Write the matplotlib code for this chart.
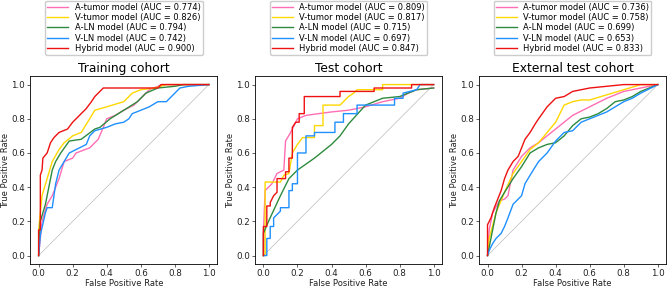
import numpy as np
import matplotlib.pyplot as plt

# 곡선 데이터
labels = ['A-tumor model', 'V-tumor model', 'A-LN model', 'V-LN model', 'Hybrid model']
colors = ['#ff6eb4', '#ffd700', '#2e8b3e', '#1e90ff', '#ee1111']
titles = ['Training cohort', 'Test cohort', 'External test cohort']
aucs = [[0.774, 0.826, 0.794, 0.742, 0.900],
        [0.809, 0.817, 0.715, 0.697, 0.847],
        [0.736, 0.758, 0.699, 0.653, 0.833]]

# Training cohort
tr_atumor_x = [0, 0.02, 0.05, 0.08, 0.12, 0.15, 0.2, 0.22, 0.3, 0.35, 0.38, 0.4, 0.45, 0.5, 0.56, 0.6, 0.65, 0.7, 0.72, 1.0]
tr_atumor_y = [0, 0.2, 0.3, 0.35, 0.45, 0.55, 0.57, 0.6, 0.63, 0.68, 0.75, 0.8, 0.82, 0.85, 0.88, 0.92, 0.97, 0.99, 1.0, 1.0]
tr_vtumor_x = [0, 0, 0.02, 0.05, 0.08, 0.12, 0.15, 0.2, 0.25, 0.3, 0.33, 0.4, 0.5, 0.55, 0.6, 0.68, 0.75, 1.0]
tr_vtumor_y = [0, 0.15, 0.35, 0.45, 0.55, 0.62, 0.66, 0.7, 0.72, 0.8, 0.85, 0.87, 0.9, 0.95, 0.97, 0.98, 1.0, 1.0]
tr_aln_x = [0, 0.01, 0.04, 0.08, 0.1, 0.13, 0.18, 0.25, 0.33, 0.36, 0.42, 0.5, 0.58, 0.63, 0.7, 0.8, 0.85, 1.0]
tr_aln_y = [0, 0.2, 0.3, 0.5, 0.55, 0.6, 0.67, 0.68, 0.74, 0.75, 0.8, 0.85, 0.9, 0.95, 0.98, 0.99, 1.0, 1.0]
tr_vln_x = [0, 0.01, 0.04, 0.05, 0.08, 0.09, 0.1, 0.12, 0.15, 0.18, 0.22, 0.28, 0.3, 0.33, 0.4, 0.45, 0.5, 0.53, 0.55,
            0.6, 0.65, 0.7, 0.75, 0.8, 0.83, 0.88, 1.0]
tr_vln_y = [0, 0.12, 0.25, 0.28, 0.28, 0.35, 0.42, 0.5, 0.55, 0.6, 0.62, 0.65, 0.7, 0.73, 0.75, 0.77, 0.78, 0.8, 0.83,
            0.85, 0.87, 0.9, 0.9, 0.95, 0.98, 0.99, 1.0]
tr_hyb_x = [0, 0, 0.01, 0.01, 0.02, 0.025, 0.05, 0.07, 0.09, 0.12, 0.17, 0.2, 0.22, 0.25, 0.28, 0.31, 0.33, 0.36, 0.38,
            0.7, 0.72, 1.0]
tr_hyb_y = [0, 0.15, 0.15, 0.47, 0.5, 0.57, 0.6, 0.66, 0.69, 0.72, 0.74, 0.78, 0.8, 0.83, 0.86, 0.9, 0.93, 0.96, 0.98,
            0.98, 1.0, 1.0]

# Test cohort
te_atumor_x = [0, 0, 0.01, 0.05, 0.08, 0.12, 0.13, 0.16, 0.2, 0.25, 0.4, 0.5, 0.6, 0.7, 0.8, 0.85, 0.9, 1.0]
te_atumor_y = [0, 0.13, 0.38, 0.42, 0.48, 0.5, 0.67, 0.72, 0.8, 0.82, 0.84, 0.85, 0.87, 0.9, 0.92, 0.95, 0.97, 0.98]
te_vtumor_x = [0, 0.01, 0.01, 0.1, 0.12, 0.15, 0.17, 0.2, 0.23, 0.3, 0.3, 0.35, 0.35, 0.45, 0.5, 0.53, 0.55, 0.7, 0.7, 1.0]
te_vtumor_y = [0, 0.0, 0.43, 0.43, 0.47, 0.48, 0.6, 0.65, 0.69, 0.69, 0.76, 0.76, 0.88, 0.88, 0.93, 0.95, 0.97, 0.97, 1.0, 1.0]
te_aln_x = [0, 0, 0.03, 0.1, 0.15, 0.2, 0.3, 0.4, 0.45, 0.5, 0.6, 0.7, 0.8, 0.9, 1.0]
te_aln_y = [0, 0.13, 0.2, 0.35, 0.45, 0.5, 0.57, 0.65, 0.7, 0.77, 0.88, 0.92, 0.93, 0.97, 0.98]
te_vln_x = [0, 0.02, 0.02, 0.04, 0.04, 0.06, 0.06, 0.1, 0.1, 0.15, 0.15, 0.17, 0.17, 0.2, 0.2, 0.25, 0.25, 0.3, 0.3,
            0.42, 0.42, 0.47, 0.47, 0.55, 0.55, 0.77, 0.77, 0.82, 0.82, 0.9, 0.92, 1.0]
te_vln_y = [0, 0, 0.1, 0.1, 0.17, 0.17, 0.22, 0.26, 0.28, 0.28, 0.38, 0.38, 0.42, 0.42, 0.6, 0.6, 0.7, 0.7, 0.72,
            0.72, 0.78, 0.78, 0.83, 0.83, 0.88, 0.88, 0.92, 0.92, 0.95, 0.97, 1.0, 1.0]
te_hyb_x = [0, 0, 0.02, 0.02, 0.04, 0.04, 0.05, 0.06, 0.08, 0.08, 0.13, 0.13, 0.15, 0.15, 0.17, 0.17, 0.19, 0.21, 0.21,
            0.24, 0.24, 0.45, 0.45, 0.65, 0.65, 0.87, 0.87, 1.0]
te_hyb_y = [0, 0.17, 0.17, 0.29, 0.29, 0.31, 0.33, 0.35, 0.37, 0.45, 0.45, 0.49, 0.49, 0.57, 0.57, 0.75, 0.78, 0.78, 0.83,
            0.83, 0.93, 0.93, 0.96, 0.96, 0.98, 0.98, 1.0, 1.0]

# External test cohort
ex_atumor_x = [0, 0.01, 0.03, 0.07, 0.1, 0.12, 0.15, 0.2, 0.25, 0.3, 0.35, 0.4, 0.45, 0.5, 0.6, 0.7, 0.8, 0.9, 1.0]
ex_atumor_y = [0, 0.15, 0.25, 0.32, 0.33, 0.35, 0.5, 0.58, 0.63, 0.66, 0.7, 0.74, 0.78, 0.82, 0.87, 0.92, 0.96, 0.98, 1.0]
ex_vtumor_x = [0, 0.01, 0.05, 0.1, 0.15, 0.2, 0.25, 0.3, 0.35, 0.4, 0.45, 0.5, 0.55, 0.6, 0.7, 0.8, 0.9, 1.0]
ex_vtumor_y = [0, 0.1, 0.25, 0.37, 0.48, 0.55, 0.62, 0.66, 0.72, 0.78, 0.88, 0.9, 0.91, 0.91, 0.94, 0.97, 1.0, 1.0]
ex_aln_x = [0, 0.01, 0.03, 0.05, 0.07, 0.1, 0.15, 0.2, 0.25, 0.3, 0.35, 0.4, 0.45, 0.5, 0.55, 0.6, 0.65, 0.7, 0.75,
            0.8, 0.85, 0.9, 1.0]
ex_aln_y = [0, 0.05, 0.15, 0.25, 0.32, 0.37, 0.45, 0.52, 0.6, 0.63, 0.65, 0.66, 0.7, 0.76, 0.8, 0.81, 0.83, 0.86, 0.9,
            0.91, 0.93, 0.96, 1.0]
ex_vln_x = [0, 0.01, 0.03, 0.05, 0.08, 0.1, 0.12, 0.15, 0.2, 0.22, 0.25, 0.3, 0.35, 0.4, 0.45, 0.5, 0.55, 0.6, 0.65,
            0.7, 0.75, 0.8, 0.85, 0.9, 1.0]
ex_vln_y = [0, 0.03, 0.07, 0.1, 0.13, 0.17, 0.22, 0.3, 0.35, 0.42, 0.47, 0.55, 0.6, 0.67, 0.72, 0.73, 0.78, 0.8, 0.82,
            0.84, 0.87, 0.9, 0.92, 0.95, 1.0]
ex_hyb_x = [0, 0.0, 0.02, 0.04, 0.06, 0.08, 0.1, 0.12, 0.15, 0.18, 0.2, 0.22, 0.25, 0.28, 0.3, 0.35, 0.4, 0.45, 0.5,
            0.6, 0.7, 0.8, 1.0]
ex_hyb_y = [0, 0.18, 0.22, 0.28, 0.33, 0.38, 0.45, 0.5, 0.55, 0.58, 0.63, 0.68, 0.72, 0.77, 0.8, 0.87, 0.92, 0.93, 0.96,
            0.98, 0.99, 1.0, 1.0]

curves = [
    [(tr_atumor_x, tr_atumor_y), (tr_vtumor_x, tr_vtumor_y), (tr_aln_x, tr_aln_y), (tr_vln_x, tr_vln_y), (tr_hyb_x, tr_hyb_y)],
    [(te_atumor_x, te_atumor_y), (te_vtumor_x, te_vtumor_y), (te_aln_x, te_aln_y), (te_vln_x, te_vln_y), (te_hyb_x, te_hyb_y)],
    [(ex_atumor_x, ex_atumor_y), (ex_vtumor_x, ex_vtumor_y), (ex_aln_x, ex_aln_y), (ex_vln_x, ex_vln_y), (ex_hyb_x, ex_hyb_y)],
]

fig = plt.figure(figsize=(6.69, 2.88), dpi=100)
lefts = [0.045, 0.381, 0.716]

for k in range(3):
    ax = fig.add_axes([lefts[k], 0.083, 0.28, 0.653])
    ax.plot([0, 1], [0, 1], color='#bbbbbb', lw=0.5)
    for i in range(5):
        x, y = curves[k][i]
        ax.plot(x, y, color=colors[i], lw=1.0,
                label=f'{labels[i]} (AUC = {aucs[k][i]:.3f})')
    ax.set_xticks(np.arange(0, 1.01, 0.2))
    ax.set_yticks(np.arange(0, 1.01, 0.2))
    ax.tick_params(labelsize=6.3, length=2, width=0.5, pad=1.5, colors='#222222')
    for s in ax.spines.values():
        s.set_linewidth(0.6)
    ax.set_xlabel('False Positive Rate', fontsize=6, labelpad=1, color='#222222')
    ax.set_ylabel('True Positive Rate', fontsize=6, labelpad=1, color='#222222')
    ax.set_title(titles[k], fontsize=8.8, pad=3)
    ax.legend(loc='lower center', bbox_to_anchor=(0.5, 1.09), fontsize=6, handlelength=2.5,
              labelspacing=0.15, borderpad=0.25, framealpha=1, edgecolor='#cccccc')

plt.savefig('out.png', dpi=100)
